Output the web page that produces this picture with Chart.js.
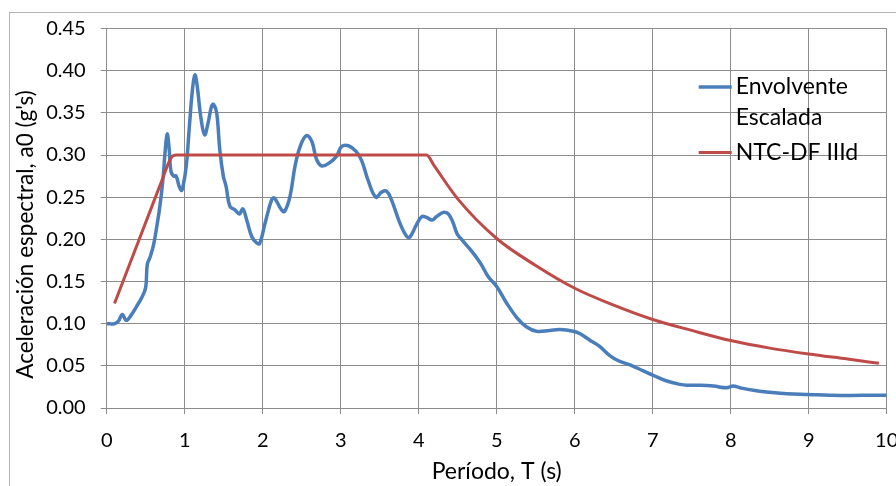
<!DOCTYPE html>
<html>
<head>
<meta charset="utf-8">
<script src="https://cdn.jsdelivr.net/npm/chart.js@4.4.1/dist/chart.umd.min.js"></script>
<style>
  body { margin: 0; background: #fff; }
  #wrap { width: 896px; height: 486px; }
</style>
</head>
<body>
<div id="wrap"><canvas id="espectro" width="896" height="486"></canvas></div>
<script>
// Envolvente escalada
const periodos = [0.00, 0.10, 0.15, 0.20, 0.25, 0.32, 0.38, 0.45, 0.50, 0.52, 0.56, 0.60, 0.64, 0.68,
  0.72, 0.75, 0.775, 0.80, 0.825, 0.86, 0.89, 0.925, 0.955, 0.975, 1.02, 1.06, 1.10, 1.13, 1.16,
  1.205, 1.255, 1.30, 1.345, 1.37, 1.41, 1.45, 1.495, 1.53, 1.58, 1.645, 1.70, 1.745, 1.795, 1.86,
  1.92, 1.96, 2.03, 2.115, 2.15, 2.24, 2.28, 2.35, 2.415, 2.48, 2.56, 2.63, 2.69, 2.76, 2.86, 2.95,
  3.01, 3.10, 3.20, 3.27, 3.355, 3.45, 3.525, 3.59, 3.65, 3.76, 3.85, 3.89, 3.97, 4.04, 4.10, 4.17,
  4.23, 4.315, 4.38, 4.435, 4.49, 4.53, 4.66, 4.79, 4.89, 5.00, 5.13, 5.26, 5.385, 5.51, 5.68, 5.81,
  5.98, 6.07, 6.20, 6.32, 6.45, 6.56, 6.71, 6.88, 7.00, 7.18, 7.35, 7.44, 7.61, 7.78, 7.95, 8.03,
  8.12, 8.29, 8.46, 8.72, 9.00, 9.27, 9.70, 10.0];
const envolvente = [0.100, 0.100, 0.103, 0.111, 0.104, 0.111, 0.120, 0.131, 0.143, 0.170, 0.180, 0.193, 0.214, 0.238,
  0.270, 0.305, 0.325, 0.308, 0.280, 0.275, 0.275, 0.264, 0.258, 0.261, 0.287, 0.334, 0.378, 0.395, 0.382,
  0.346, 0.324, 0.338, 0.358, 0.360, 0.350, 0.306, 0.275, 0.263, 0.239, 0.235, 0.230, 0.236, 0.223, 0.203,
  0.196, 0.195, 0.219, 0.247, 0.249, 0.235, 0.233, 0.251, 0.287, 0.310, 0.323, 0.316, 0.295, 0.287, 0.291, 0.299,
  0.310, 0.311, 0.304, 0.293, 0.269, 0.250, 0.256, 0.257, 0.247, 0.219, 0.203, 0.203, 0.217, 0.227, 0.226, 0.223,
  0.227, 0.232, 0.230, 0.221, 0.207, 0.202, 0.188, 0.172, 0.156, 0.144, 0.124, 0.107, 0.096, 0.091, 0.092, 0.093,
  0.091, 0.088, 0.080, 0.073, 0.062, 0.056, 0.051, 0.044, 0.039, 0.032, 0.028, 0.027, 0.027, 0.026, 0.024, 0.026,
  0.024, 0.021, 0.019, 0.017, 0.016, 0.015, 0.015, 0.015];

// Espectro de diseno NTC-DF zona IIId
const ntcPeriodos = [0.10, 0.70, 0.80, 0.85, 0.90, 4.10, 4.20, 4.50, 5.00, 5.50, 6.00, 6.50, 7.00, 7.50, 8.00, 8.50, 9.00, 9.50, 9.90];
const ntcValores = [0.124, 0.268, 0.292, 0.299, 0.300, 0.300, 0.287, 0.248, 0.201, 0.169, 0.142, 0.122, 0.105, 0.092, 0.080, 0.071, 0.064, 0.058, 0.053];

const tituloX = 'Período, T (s)';
const tituloY = "Aceleración espectral, a0 (g's)";

const gris = '#8c8c8c';
const fuente = 'Lato, "Open Sans", sans-serif';

function partir(ctx, texto, ancho) {
  const palabras = texto.split(' ');
  const lineas = [];
  let actual = '';
  palabras.forEach(p => {
    const prueba = actual ? actual + ' ' + p : p;
    if (actual && ctx.measureText(prueba).width > ancho) {
      lineas.push(actual);
      actual = p;
    } else {
      actual = prueba;
    }
  });
  lineas.push(actual);
  return lineas;
}

// fondo y marco exterior
const marco = {
  id: 'marco',
  beforeDraw(chart) {
    const ctx = chart.ctx;
    ctx.save();
    ctx.fillStyle = '#fff';
    ctx.fillRect(0, 0, chart.width, chart.height);
    ctx.strokeStyle = '#b4b4b4';
    ctx.lineWidth = 1;
    ctx.strokeRect(9.5, 12.5, chart.width, chart.height);
    ctx.restore();
  }
};

// leyenda dentro del area de trazado y titulo del eje vertical
const leyenda = {
  id: 'leyenda',
  afterDraw(chart) {
    const ctx = chart.ctx;
    const area = chart.chartArea;
    let y = area.top + 58.5;
    ctx.save();
    ctx.font = '23px ' + fuente;
    ctx.textBaseline = 'middle';
    chart.data.datasets.forEach(ds => {
      const lineas = partir(ctx, ds.label, 150);
      ctx.strokeStyle = ds.borderColor;
      ctx.lineWidth = ds.borderWidth;
      ctx.beginPath();
      ctx.moveTo(area.right - 188, y);
      ctx.lineTo(area.right - 155, y);
      ctx.stroke();
      ctx.fillStyle = '#000';
      lineas.forEach((l, i) => ctx.fillText(l, area.right - 151, y + i * 31));
      y += lineas.length * 31 + 3.5;
    });

    // el titulo del eje Y queda algo por debajo del centro del area
    ctx.font = '22.5px ' + fuente;
    ctx.textAlign = 'center';
    ctx.translate(26, area.top + 206);
    ctx.rotate(-Math.PI / 2);
    ctx.fillText(tituloY, 0, 0);
    ctx.restore();
  }
};

new Chart(document.getElementById('espectro'), {
  type: 'line',
  data: {
    datasets: [{
      label: 'Envolvente Escalada',
      data: periodos.map((t, i) => ({ x: t, y: envolvente[i] })),
      borderColor: '#4a7ebb',
      borderWidth: 3.5,
      pointRadius: 0,
      tension: 0.4,
      order: 2
    }, {
      label: 'NTC-DF IIId',
      data: ntcPeriodos.map((t, i) => ({ x: t, y: ntcValores[i] })),
      borderColor: '#be4b48',
      borderWidth: 3,
      pointRadius: 0,
      cubicInterpolationMode: 'monotone',
      order: 1
    }]
  },
  options: {
    responsive: false,
    animation: false,
    devicePixelRatio: 1,
    layout: { padding: { left: 10, top: 28.5, right: 9.3, bottom: 0 } },
    plugins: {
      legend: { display: false },
      tooltip: { enabled: false }
    },
    scales: {
      x: {
        type: 'linear',
        min: 0,
        max: 10,
        ticks: { stepSize: 1, color: '#000', padding: 15, maxRotation: 0, font: { family: fuente, size: 20 } },
        grid: { color: gris, tickLength: 6 },
        border: { color: gris },
        title: { display: true, text: tituloX, color: '#000', padding: { top: 0, bottom: 1 }, font: { family: fuente, size: 23 } },
        afterFit(s) { s.height = 78; s.paddingRight = 0; }
      },
      y: {
        min: 0,
        max: 0.45,
        ticks: { stepSize: 0.05, color: '#000', padding: 15, font: { family: fuente, size: 20 },
          callback: v => v.toFixed(2) },
        grid: { color: gris, tickLength: 6 },
        border: { color: gris },
        afterFit(s) { s.width = 96.7; }
      }
    }
  },
  plugins: [marco, leyenda]
});
</script>
</body>
</html>
